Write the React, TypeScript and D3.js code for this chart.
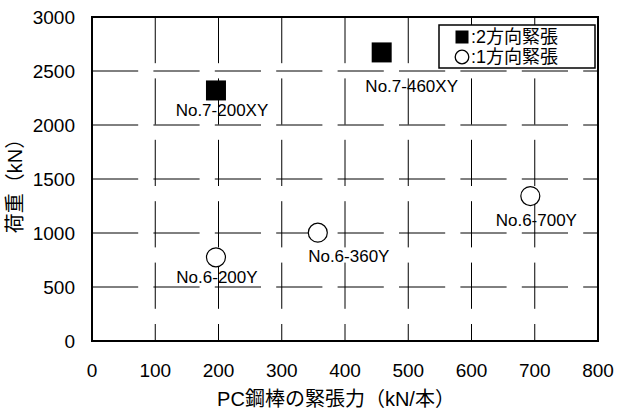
import React from "react";
import * as d3 from "d3";

// ---- data ----
const twoWayNames = ["No.7-200XY", "No.7-460XY"];
const twoWayX = [196, 458];
const twoWayY = [2320, 2672];

const oneWayNames = ["No.6-200Y", "No.6-360Y", "No.6-700Y"];
const oneWayX = [196, 357, 693];
const oneWayY = [775, 1003, 1342];

const xTicks = [0, 100, 200, 300, 400, 500, 600, 700, 800];
const yTicks = [0, 500, 1000, 1500, 2000, 2500, 3000];

const xTitle = "PC鋼棒の緊張力（kN/本）";
const yTitle = "荷重（kN）";
const legendLabels = [":2方向緊張", ":1方向緊張"];

// label offsets (layout, px) relative to each marker
const twoWayLabelOff = [[6, 20], [30, 34]];
const oneWayLabelOff = [[1, 20], [31, 24], [6, 24]];

const W = 617;
const H = 409;
const left = 92;
const right = 598;
const top = 17;
const bottom = 341;
const FONT = "'Liberation Sans', Arial, 'Noto Sans CJK JP', sans-serif";
const CJK = "'Liberation Sans', 'Noto Sans CJK JP', sans-serif";

export default function App() {
  const x = d3.scaleLinear().domain([0, 800]).range([left, right]);
  const y = d3.scaleLinear().domain([0, 3000]).range([bottom, top]);
  const dash = "46.2 15.2";

  return (
    <svg
      width={W}
      height={H}
      style={{ position: "absolute", left: 0, top: 0, background: "#fff" }}
      fontFamily={FONT}
    >
      <rect x={0} y={0} width={W} height={H} fill="#fff" />
      {/* gridlines */}
      {yTicks.slice(1, -1).map((t) => (
        <line
          key={"h" + t}
          x1={left}
          x2={right}
          y1={y(t)}
          y2={y(t)}
          stroke="#000"
          strokeWidth={1}
          strokeDasharray={dash}
        />
      ))}
      {xTicks.slice(1, -1).map((t) => (
        <line
          key={"v" + t}
          x1={x(t)}
          x2={x(t)}
          y1={top}
          y2={bottom}
          stroke="#000"
          strokeWidth={1}
          strokeDasharray={dash}
        />
      ))}
      {/* border */}
      <rect
        x={left}
        y={top}
        width={right - left}
        height={bottom - top}
        fill="none"
        stroke="#000"
        strokeWidth={2}
      />
      {/* tick labels */}
      {xTicks.map((t) => (
        <text
          key={"xt" + t}
          x={x(t)}
          y={370}
          fontSize={19}
          textAnchor="middle"
          dominantBaseline="central"
        >
          {t}
        </text>
      ))}
      {yTicks.map((t) => (
        <text
          key={"yt" + t}
          x={75}
          y={y(t)}
          fontSize={19}
          textAnchor="end"
          dominantBaseline="central"
        >
          {t}
        </text>
      ))}
      {/* axis titles */}
      <text
        x={336}
        y={399}
        fontSize={20}
        textAnchor="middle"
        dominantBaseline="central"
        fontFamily={CJK}
      >
        {xTitle}
      </text>
      <text
        transform={`translate(15,181) rotate(-90)`}
        fontSize={20}
        textAnchor="middle"
        dominantBaseline="central"
        fontFamily={CJK}
      >
        {yTitle}
      </text>
      {/* markers */}
      {twoWayX.map((v, i) => (
        <rect
          key={"s" + i}
          x={x(v) - 10}
          y={y(twoWayY[i]) - 10}
          width={20}
          height={20}
          fill="#000"
        />
      ))}
      {oneWayX.map((v, i) => (
        <circle
          key={"c" + i}
          cx={x(v)}
          cy={y(oneWayY[i])}
          r={9.5}
          fill="#fff"
          stroke="#000"
          strokeWidth={1.2}
        />
      ))}
      {/* point labels */}
      {twoWayNames.map((n, i) => (
        <text
          key={"sl" + i}
          x={x(twoWayX[i]) + twoWayLabelOff[i][0]}
          y={y(twoWayY[i]) + twoWayLabelOff[i][1]}
          fontSize={17}
          textAnchor="middle"
          dominantBaseline="central"
        >
          {n}
        </text>
      ))}
      {oneWayNames.map((n, i) => (
        <text
          key={"cl" + i}
          x={x(oneWayX[i]) + oneWayLabelOff[i][0]}
          y={y(oneWayY[i]) + oneWayLabelOff[i][1]}
          fontSize={17}
          textAnchor="middle"
          dominantBaseline="central"
        >
          {n}
        </text>
      ))}
      {/* legend */}
      <rect
        x={439}
        y={25}
        width={156}
        height={43}
        fill="#fff"
        stroke="#000"
        strokeWidth={1.5}
      />
      <rect x={455.5} y={30.5} width={13} height={13} fill="#000" />
      <circle cx={462} cy={57} r={6.8} fill="#fff" stroke="#000" strokeWidth={1.3} />
      {legendLabels.map((l, i) => (
        <text
          key={"lg" + i}
          x={471}
          y={37 + i * 20}
          fontSize={18}
          dominantBaseline="central"
          fontFamily={CJK}
        >
          {l}
        </text>
      ))}
    </svg>
  );
}
